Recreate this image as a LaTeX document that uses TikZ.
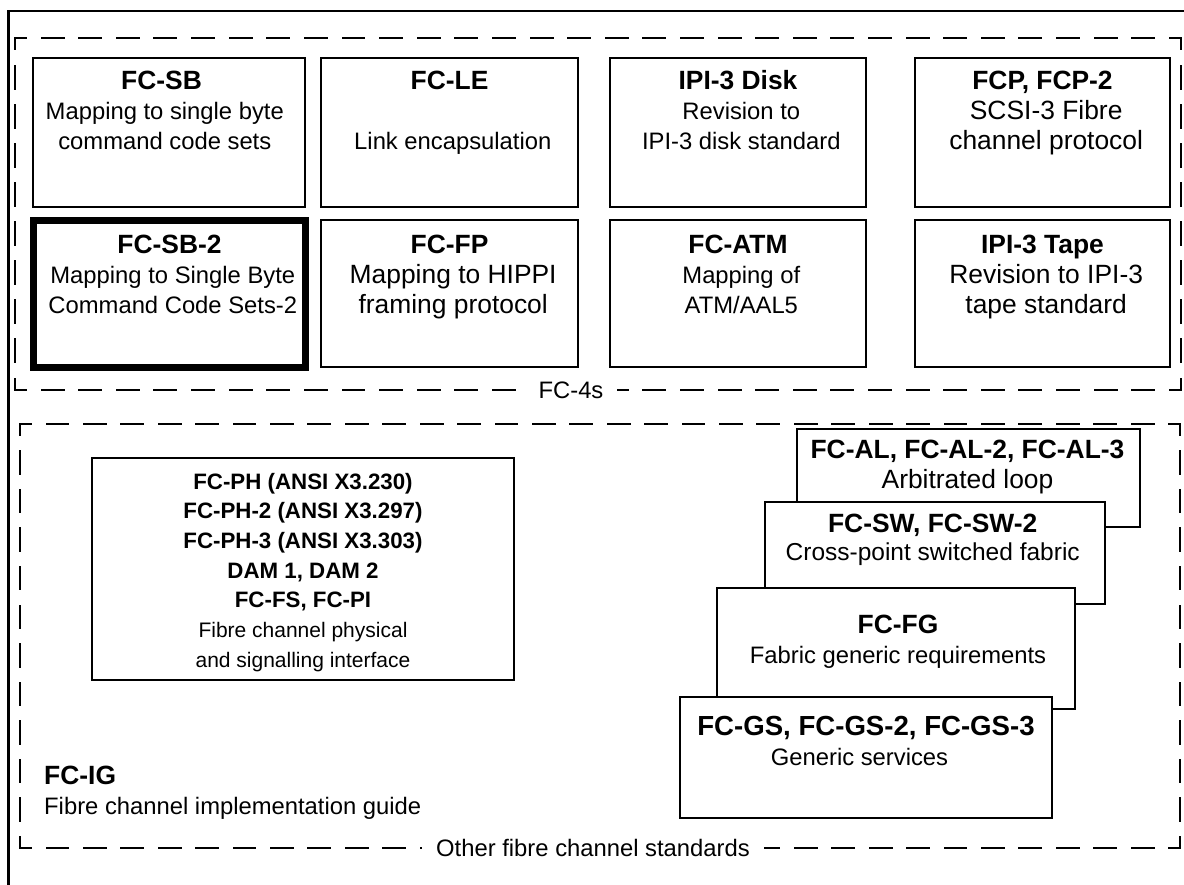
\documentclass[tikz,border=0pt]{standalone}
\usepackage{fontspec}
\setmainfont{Liberation Sans}
\newcommand\fR{\fontsize{23.8}{30}\selectfont}
\newcommand\fL{\fontsize{26.4}{30}\selectfont}
\newcommand\fB{\fontsize{26.4}{30}\selectfont\bfseries}
\newcommand\threeL[4]{\strut{\fB #1}\\\strut{#4 #2}\\\strut{#4 #3}}
\begin{document}
\begin{tikzpicture}[x=1pt,y=-1pt,
  box/.style={draw,line width=1.8pt,fill=white,inner sep=0pt,outer sep=0pt},
  txt/.style={align=center,inner sep=0pt,anchor=north,font=\fR},
  lbl/.style={fill=white,inner xsep=14pt,inner ysep=3pt,font=\fR},
  side/.style={line width=1.9pt,line cap=rect}]
\useasboundingbox (0,0) rectangle (1184,884);
\clip (0,0) rectangle (1184,884);
% outer frame (cut by the picture edges)
\draw[line width=2.7pt] (8.5,900) -- (8.5,11) -- (1200,11);
% upper dashed group
\draw[side,dash pattern=on 22.07pt off 15.54pt,dash phase=11.03pt] (15,38) -- (1181,38);
\draw[side,dash pattern=on 22.07pt off 15.54pt,dash phase=11.03pt] (15,390) -- (1181,390);
\draw[side,dash pattern=on 22.9pt off 16.2pt,dash phase=11.45pt] (15,38) -- (15,390);
\draw[side,dash pattern=on 22.9pt off 16.2pt,dash phase=11.45pt] (1181,38) -- (1181,390);
% lower dashed group
\draw[side,dash pattern=on 21.95pt off 15.47pt,dash phase=10.97pt] (20,424) -- (1180,424);
\draw[side,dash pattern=on 21.95pt off 15.47pt,dash phase=10.97pt] (20,848) -- (1180,848);
\draw[side,dash pattern=on 22.6pt off 15.95pt,dash phase=11.3pt] (20,424) -- (20,848);
\draw[side,dash pattern=on 22.6pt off 15.95pt,dash phase=11.3pt] (1180,424) -- (1180,848);
\node[lbl] (fc4s) at (571,390) {FC-4s};
\node[lbl] (other) at (593,848) {Other fibre channel standards};
% FC-4 boxes
\node[box,minimum width=272pt,minimum height=149pt] (sb) at (169,132.5) {};
\node[box,minimum width=257pt,minimum height=149pt] (le) at (449.5,132.5) {};
\node[box,minimum width=256pt,minimum height=149pt] (disk) at (738,132.5) {};
\node[box,minimum width=255pt,minimum height=149pt] (fcp) at (1042.5,132.5) {};
\node[box,line width=7pt,minimum width=272pt,minimum height=147pt] (sb2) at (169,293.5) {};
\node[box,minimum width=257pt,minimum height=147pt] (fp) at (449.5,293.5) {};
\node[box,minimum width=256pt,minimum height=147pt] (atm) at (738,293.5) {};
\node[box,minimum width=255pt,minimum height=147pt] (tape) at (1042.5,293.5) {};
\node[txt] (sbT) at (161.5,68.5) {\threeL{FC-SB}{Mapping to single byte}{command code sets}{\fR}};
\node[txt] (leT) at (449.5,68.5) {\threeL{FC-LE}{}{Link encapsulation}{\fR}};
\node[txt] (diskT) at (738,68.5) {\threeL{IPI-3 Disk}{Revision to}{IPI-3 disk standard}{\fR}};
\node[txt] (fcpT) at (1042.5,68.5) {\threeL{FCP, FCP-2}{SCSI-3 Fibre}{channel protocol}{\fL}};
\node[txt] (sb2T) at (169.5,232) {\threeL{FC-SB-2}{Mapping to Single Byte}{Command Code Sets-2}{\fR}};
\node[txt] (fpT) at (449.5,232) {\threeL{FC-FP}{Mapping to HIPPI}{framing protocol}{\fL}};
\node[txt] (atmT) at (738,232) {\threeL{FC-ATM}{Mapping of}{ATM/AAL5}{\fR}};
\node[txt] (tapeT) at (1042.5,232) {\threeL{IPI-3 Tape}{Revision to IPI-3}{tape standard}{\fL}};
% FC-PH box
\node[box,minimum width=422pt,minimum height=222pt] (ph) at (303,569) {};
\node[txt,font=\fontsize{21}{29.7}\selectfont] (phT) at (303,468.2)
  {\strut{\fontsize{22.3}{29.7}\selectfont\bfseries FC-PH (ANSI X3.230)}\\
   \strut{\fontsize{22.3}{29.7}\selectfont\bfseries FC-PH-2 (ANSI X3.297)}\\
   \strut{\fontsize{22.3}{29.7}\selectfont\bfseries FC-PH-3 (ANSI X3.303)}\\
   \strut{\fontsize{22.3}{29.7}\selectfont\bfseries DAM 1, DAM 2}\\
   \strut{\fontsize{22.3}{29.7}\selectfont\bfseries FC-FS, FC-PI}\\
   \strut Fibre channel physical\\
   \strut and signalling interface};
% FC-IG
\node[anchor=north west,align=left,inner sep=0pt,font=\fR] (ig) at (44,763.5)
  {\strut{\fB FC-IG}\\\strut Fibre channel implementation guide};
% stacked boxes
\node[box,minimum width=343pt,minimum height=98pt] (al) at (968.5,478) {};
\node[txt,font=\fontsize{23.8}{30}\selectfont] (alT) at (967.5,437.5)
  {\strut{\fB FC-AL, FC-AL-2, FC-AL-3}\\\strut{\fL Arbitrated loop}};
\node[box,minimum width=340pt,minimum height=102pt] (sw) at (935,553) {};
\node[txt,font=\fontsize{23.8}{28}\selectfont] (swT) at (932.7,512.9)
  {\strut{\fB FC-SW, FC-SW-2}\\\strut{\fontsize{24.5}{28}\selectfont Cross-point switched fabric}};
\node[box,minimum width=358pt,minimum height=121pt] (fg) at (896,648.5) {};
\node[txt,font=\fontsize{23.8}{30}\selectfont] (fgT) at (898,612.5)
  {\strut{\fB FC-FG}\\\strut Fabric generic requirements};
\node[box,minimum width=372pt,minimum height=121pt] (gs) at (866,757.5) {};
\node[txt,font=\fontsize{23.8}{30}\selectfont] (gsT) at (866,713.9)
  {\strut{\fontsize{27.6}{30}\selectfont\bfseries FC-GS, FC-GS-2, FC-GS-3}\\\strut Generic services\hspace*{13pt}};
\end{tikzpicture}
\end{document}
